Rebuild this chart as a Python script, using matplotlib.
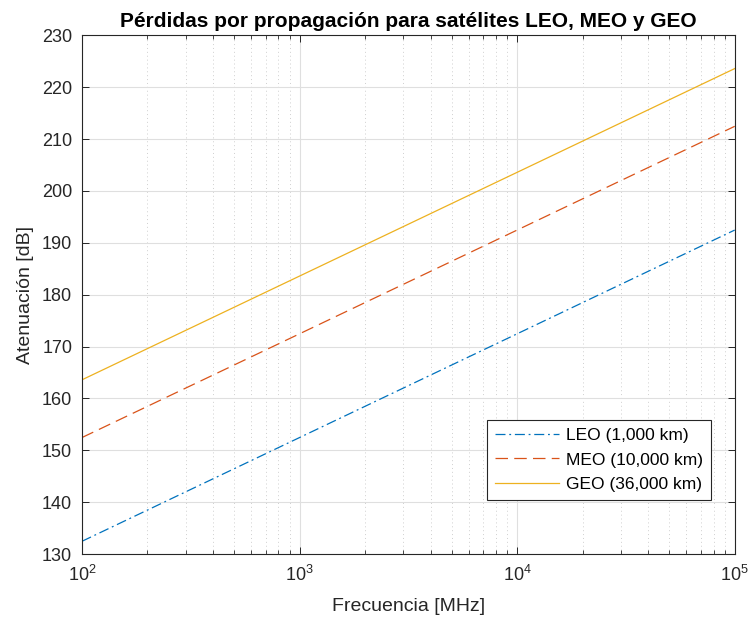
import matplotlib
matplotlib.use("Agg")
import matplotlib.pyplot as plt
from matplotlib.ticker import LogLocator, NullFormatter

plt.rcParams['font.family'] = ['Liberation Sans', 'DejaVu Sans']
plt.rcParams['mathtext.fontset'] = 'custom'
plt.rcParams['mathtext.rm'] = 'Liberation Sans'
plt.rcParams['mathtext.it'] = 'Liberation Sans'

freq_mhz = [1e2, 1e3, 1e4, 1e5]
leo_db = [132.45, 152.45, 172.45, 192.45]
meo_db = [152.45, 172.45, 192.45, 212.45]
geo_db = [163.58, 183.58, 203.58, 223.58]
labels = ['LEO (1,000 km)', 'MEO (10,000 km)', 'GEO (36,000 km)']
yticks = list(range(130, 231, 10))

fig = plt.figure(figsize=(7.52, 6.19), dpi=100)
ax = fig.add_axes([0.109, 0.105, 0.868, 0.838])

ax.plot(freq_mhz, leo_db, color='#0072BD', lw=0.9, dashes=[8, 3, 1.5, 3], label=labels[0])
ax.plot(freq_mhz, meo_db, color='#D95319', lw=0.9, dashes=[10, 5], label=labels[1])
ax.plot(freq_mhz, geo_db, color='#EDB120', lw=0.9, label=labels[2])

ax.set_xscale('log')
ax.set_xlim(1e2, 1e5)
ax.set_ylim(130, 230)
ax.set_yticks(yticks)
ax.xaxis.set_minor_locator(LogLocator(base=10, subs=range(2, 10)))
ax.xaxis.set_minor_formatter(NullFormatter())

ax.grid(True, which='major', color='#dfdfdf', lw=0.8, ls='-')
ax.grid(True, which='minor', axis='x', color='#cfcfcf', lw=0.7, ls=(0, (1, 3)))
ax.set_axisbelow(True)

ax.tick_params(which='both', direction='in', top=True, right=True, labelsize=13, colors='#262626')
ax.tick_params(which='major', length=5, width=0.7)
ax.tick_params(which='minor', length=3, width=0.6)
ax.tick_params(axis='x', pad=8)
ax.tick_params(axis='y', pad=7)
for s in ax.spines.values():
    s.set_color('#262626')
    s.set_linewidth(0.8)

ax.set_xlabel('Frecuencia [MHz]', fontsize=14, color='#262626', labelpad=9)
ax.set_ylabel('Atenuación [dB]', fontsize=14, color='#262626', labelpad=6)
ax.set_title('Pérdidas por propagación para satélites LEO, MEO y GEO', fontsize=15, fontweight='bold', pad=6)

leg = ax.legend(loc='lower right', bbox_to_anchor=(0.963, 0.104), borderaxespad=0, fontsize=12.5,
                frameon=True, fancybox=False, edgecolor='#262626', framealpha=1, handlelength=3.7,
                borderpad=0.45, labelspacing=0.55, handletextpad=0.4)
leg.get_frame().set_linewidth(0.8)

fig.savefig('out.png', dpi=100)
